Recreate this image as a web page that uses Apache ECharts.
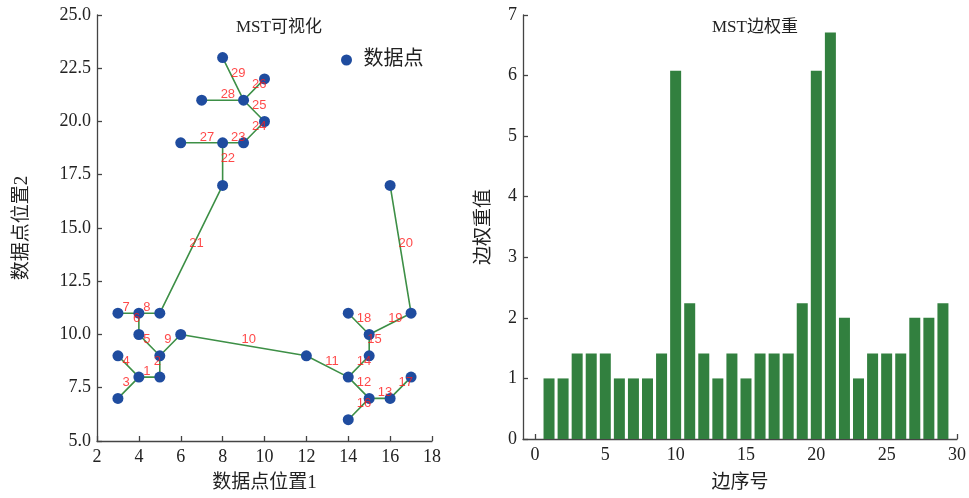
<!DOCTYPE html>
<html>
<head>
<meta charset="utf-8">
<script src="https://cdn.jsdelivr.net/npm/echarts@6/dist/echarts.min.js"></script>
<style>
html,body{margin:0;padding:0;background:#fff;}
#main{width:969px;height:498px;}
</style>
</head>
<body>
<div id="main"></div>
<script>
// 数据点坐标
var pointX = [3, 4, 5, 3, 5, 4, 3, 4, 5, 6, 12, 14, 15, 16, 14, 17, 15, 15, 14, 17, 16, 8, 8, 9, 6, 10, 9, 7, 10, 8];
var pointY = [7, 8, 8, 9, 9, 10, 11, 11, 11, 10, 9, 8, 7, 7, 6, 8, 9, 10, 11, 11, 17, 17, 19, 19, 19, 20, 21, 21, 22, 23];
// MST边 (起点, 终点)，按边序号排列
var edgeFrom = [1, 2, 0, 3, 5, 5, 6, 7, 4, 9, 10, 11, 12, 11, 16, 14, 13, 18, 17, 19, 8, 21, 22, 23, 25, 26, 24, 27, 26];
var edgeTo   = [2, 4, 1, 1, 4, 7, 7, 8, 9, 10, 11, 12, 13, 16, 17, 12, 15, 17, 19, 20, 21, 22, 23, 25, 26, 28, 22, 26, 29];
// 边权重
var edgeIndex = [1, 2, 3, 4, 5, 6, 7, 8, 9, 10, 11, 12, 13, 14, 15, 16, 17, 18, 19, 20, 21, 22, 23, 24, 25, 26, 27, 28, 29];
var edgeWeight = [1, 1, 1.41, 1.41, 1.41, 1, 1, 1, 1.41, 6.08, 2.24, 1.41, 1, 1.41, 1, 1.41, 1.41, 1.41, 2.24, 6.08, 6.71, 2, 1, 1.41, 1.41, 1.41, 2, 2, 2.24];
var xTicks2 = [0, 5, 10, 15, 20, 25, 30];

var serif = "'Liberation Serif','Noto Sans CJK SC',serif";
var axisColor = '#444';

var chart = echarts.init(document.getElementById('main'));

var scatterData = [];
for (var i = 0; i < pointX.length; i++) {
	scatterData.push([pointX[i], pointY[i]]);
}
var edgeData = [];
var labelData = [];
for (var i = 0; i < edgeFrom.length; i++) {
	var a = edgeFrom[i], b = edgeTo[i];
	edgeData.push([pointX[a], pointY[a]]);
	edgeData.push([pointX[b], pointY[b]]);
	edgeData.push('-');
	var txt = String(edgeIndex[i]);
	labelData.push({
		value: [(pointX[a] + pointX[b]) / 2, (pointY[a] + pointY[b]) / 2],
		name: txt,
		label: {offset: [txt.length == 1 ? -6 : -2, 1]}
	});
}
var barData = [];
for (var i = 0; i < edgeIndex.length; i++) {
	barData.push([edgeIndex[i], edgeWeight[i]]);
}

function axisBase() {
	return {
		axisLine: {show: true, onZero: false, lineStyle: {color: axisColor, width: 1.3}},
		axisTick: {show: true, inside: true, length: 5, lineStyle: {color: axisColor, width: 1.3}},
		splitLine: {show: false},
		axisLabel: {color: '#222', fontSize: 18, fontFamily: serif, margin: 7},
		nameLocation: 'middle',
		nameMoveOverlap: false,
		nameTextStyle: {color: '#222', fontSize: 19, fontFamily: serif}
	};
}

var x1 = axisBase();
x1.type = 'value'; x1.gridIndex = 0; x1.min = 2; x1.max = 18; x1.interval = 2;
x1.name = '数据点位置1'; x1.nameGap = 33;
var y1 = axisBase();
y1.type = 'value'; y1.gridIndex = 0; y1.min = 5; y1.max = 25; y1.interval = 2.5;
y1.name = '数据点位置2'; y1.nameGap = 65;
y1.axisLabel.formatter = function(v) { return v.toFixed(1); };
y1.axisLabel.margin = 6;
var x2 = axisBase();
x2.type = 'value'; x2.gridIndex = 1; x2.min = -0.85; x2.max = 30;
x2.axisLabel.customValues = xTicks2;
x2.axisTick.customValues = xTicks2;
x2.name = '边序号'; x2.nameGap = 35;
var y2 = axisBase();
y2.type = 'value'; y2.gridIndex = 1; y2.min = 0; y2.max = 7; y2.interval = 1;
y2.name = '边权重值'; y2.nameGap = 29;
y2.axisLabel.margin = 6;

var option = {
	backgroundColor: '#fff',
	animation: false,
	title: [
		{text: 'MST可视化', left: 231, top: 14, textStyle: {fontSize: 17, fontWeight: 'normal', color: '#222', fontFamily: serif}},
		{text: 'MST边权重', left: 707, top: 14, textStyle: {fontSize: 17, fontWeight: 'normal', color: '#222', fontFamily: serif}}
	],
	legend: {
		data: ['数据点'],
		left: 336, top: 45,
		icon: 'circle',
		itemWidth: 24, itemHeight: 11, itemGap: 5,
		textStyle: {fontSize: 20, color: '#222', fontFamily: serif}
	},
	grid: [
		{left: 97, right: 537, top: 15, bottom: 56, containLabel: false},
		{left: 523, right: 12, top: 15, bottom: 56, containLabel: false}
	],
	xAxis: [x1, x2],
	yAxis: [y1, y2],
	series: [
		{
			name: 'MST边', type: 'line', xAxisIndex: 0, yAxisIndex: 0,
			data: edgeData, showSymbol: false, symbol: 'none', connectNulls: false,
			lineStyle: {color: '#3d8f46', width: 1.6}, silent: true, z: 2
		},
		{
			name: '数据点', type: 'scatter', xAxisIndex: 0, yAxisIndex: 0,
			data: scatterData, symbolSize: 11,
			itemStyle: {color: '#1f4c9f', opacity: 1}, z: 3
		},
		{
			name: '边标签', type: 'scatter', xAxisIndex: 0, yAxisIndex: 0,
			data: labelData, symbolSize: 0.01, silent: true, z: 4,
			itemStyle: {color: '#ff3333'},
			label: {
				show: true, position: 'inside', align: 'left', verticalAlign: 'bottom',
				formatter: '{b}', color: '#ff1a1a', fontSize: 13,
				fontFamily: "'Liberation Sans',Arial,sans-serif"
			}
		},
		{
			name: '边权重', type: 'bar', xAxisIndex: 1, yAxisIndex: 1,
			data: barData, barWidth: 11,
			itemStyle: {color: '#32803f'}
		}
	]
};
chart.setOption(option);
</script>
</body>
</html>
